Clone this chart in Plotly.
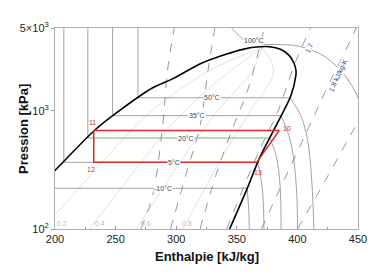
import plotly.graph_objects as go
import math

# ---------------- data (h in kJ/kg, p in kPa) ----------------
dome_h = [183, 200, 232.5, 252, 280.6, 296.9, 321.3, 341.7, 355, 366, 377, 386, 393, 397.1, 398.8, 398.7, 394.6, 382.4, 368.6, 358, 344.1]
dome_p = [211, 313, 680, 980, 1561, 1857, 2532, 3013, 3300, 3450, 3470, 3300, 2950, 2532, 2200, 1969, 1337, 748, 395, 213, 100]

# isotherms: liquid/two-phase part (straight) and superheated part (curved)
iso_names = ["-10°C", "5°C", "20°C", "35°C", "50°C"]
iso_liq_h = [[190, 358.5], [207.3, 207.3, 367.3], [227.1, 227.1], [247.5, 247.5, 386.5], [268.4, 268.4, 393.8]]
iso_liq_p = [[221, 221], [5000, 366, 366], [5000, 587], [5000, 908, 908], [5000, 1286, 1286]]
iso20_h = [227.1, 377.2]
iso20_p = [587, 587]
iso_sup_h = [[358.5, 359.6, 360.4], [367.3, 370.2, 371.8, 372.4], [377.2, 382.4, 385.7, 386.5],
             [386.5, 393, 397.1, 399.5, 400.1], [393.8, 402.8, 408.5, 411.8, 413.6]]
iso_sup_p = [[221, 159, 100], [366, 258, 175, 100], [587, 419, 234, 100],
             [908, 617, 380, 193, 100], [1286, 908, 560, 258, 100]]
iso100_h = [345, 352.3, 358.8, 370.2, 394.6, 406.8, 423.1, 439.4, 450, 456.5]
iso100_p = [5100, 4268, 3800, 3656, 3586, 3384, 2842, 1969, 1286, 748]

iso_lbl_h = [288.8, 298.3, 307.7, 317.3, 329.5, 364.5]
iso_lbl_p = [221, 366, 587, 908, 1286, 3950]
iso_lbl_t = ["-10°C", "5°C", "20°C", "35°C", "50°C", "100°C"]

# isentropes (dashed)
s_h = [[270.8, 280.6, 288.8, 292.8, 298.4],
       [295.3, 309.1, 319.7, 326.2, 331.9],
       [319.7, 332.7, 345.8, 358.8, 367, 372.6],
       [341.7, 356.3, 368.6, 384.1, 397.1, 405.2, 410.9],
       [370.2, 389.7, 409.3, 427.2, 443.5, 448.4],
       [400.1, 423.1, 446, 453.3]]
s_p = [[100, 193, 748, 2168, 5000],
       [100, 313, 748, 2168, 5000],
       [100, 284, 679, 1472, 2899, 5000],
       [100, 234, 461, 1000, 2388, 3727, 5000],
       [100, 268, 720, 1787, 3875, 5000],
       [100, 258, 679, 908]]
s_lbl_h = [409.3, 433.7]
s_lbl_p = [3384, 1969]
s_lbl_t = ["1.7", "1.8 kJ/kg-K"]

# quality lines
q_h = [[189.7, 218.3, 247.6, 280, 326.9, 371],
       [228.3, 253.3, 278.7, 307.1, 344.8, 371],
       [266.9, 288.1, 309.8, 334.3, 362.7, 371],
       [305.5, 323, 340.9, 361.4, 380.5, 371]]
q_p = [[100, 213, 461, 1000, 2168, 3400]] * 4
q_lbl_h = [205.7, 237.5, 274.9, 309.1]
q_lbl_t = ["0.2", "0.4", "0.6", "0.8"]
q_lbl_p = 112

# refrigeration cycle
cyc_h = [232, 385, 366.5, 232, 232]
cyc_p = [680, 680, 366, 366, 680]
pt_lbl_t = ["11", "10", "13", "12"]
pt_lbl_h = [230.9, 391.4, 367.5, 230.1]
pt_lbl_p = [793, 706, 303, 319]

# ---------------- figure ----------------
fig = go.Figure()
GRAY = "#8a8a8a"

for h, p in zip(q_h, q_p):
    fig.add_trace(go.Scatter(x=h, y=p, mode="lines", line=dict(color="#d6d6d6", width=0.7, shape="spline"), hoverinfo="skip"))

for h, p in zip(s_h, s_p):
    fig.add_trace(go.Scatter(x=h, y=p, mode="lines", line=dict(color="#8089aa", width=0.9, dash="dash", shape="spline"), hoverinfo="skip"))

for h, p in zip(iso_liq_h, iso_liq_p):
    fig.add_trace(go.Scatter(x=h, y=p, mode="lines", line=dict(color=GRAY, width=0.8), hoverinfo="skip"))
fig.add_trace(go.Scatter(x=iso20_h, y=iso20_p, mode="lines", line=dict(color="#6fa86a", width=0.9), hoverinfo="skip"))
for h, p in zip(iso_sup_h, iso_sup_p):
    fig.add_trace(go.Scatter(x=h, y=p, mode="lines", line=dict(color=GRAY, width=0.8, shape="spline"), hoverinfo="skip"))
fig.add_trace(go.Scatter(x=iso100_h, y=iso100_p, mode="lines", line=dict(color=GRAY, width=0.8, shape="spline"), hoverinfo="skip"))

fig.add_trace(go.Scatter(x=dome_h, y=dome_p, mode="lines", line=dict(color="black", width=1.6, shape="spline", smoothing=0.8), hoverinfo="skip"))
fig.add_trace(go.Scatter(x=cyc_h, y=cyc_p, mode="lines", line=dict(color="#dd2a2a", width=1.5), hoverinfo="skip"))

ann = []
for h, p, t in zip(iso_lbl_h, iso_lbl_p, iso_lbl_t):
    ann.append(dict(x=h, y=math.log10(p), text=t, showarrow=False, font=dict(size=7, color="#444"), bgcolor="white", borderpad=0))
for h, p, t in zip(s_lbl_h, s_lbl_p, s_lbl_t):
    ann.append(dict(x=h, y=math.log10(p), text=t, showarrow=False, textangle=-65, font=dict(size=7, color="#3a3f8f"), bgcolor="white", borderpad=0))
for h, t in zip(q_lbl_h, q_lbl_t):
    ann.append(dict(x=h, y=math.log10(q_lbl_p), text=t, showarrow=False, font=dict(size=7, color="#bbbbbb")))
for h, p, t in zip(pt_lbl_h, pt_lbl_p, pt_lbl_t):
    ann.append(dict(x=h, y=math.log10(p), text=t, showarrow=False, font=dict(size=7, color="#d42a2a")))

ann.append(dict(xref="paper", yref="paper", x=0.5, y=-0.139, yanchor="middle", text="<b>Enthalpie [kJ/kg]</b>", showarrow=False, font=dict(size=13, color="#111")))
ann.append(dict(xref="paper", yref="paper", x=-0.104, xanchor="center", y=0.5, text="<b>Pression [kPa]</b>", textangle=-90, showarrow=False, font=dict(size=13, color="#111")))

# page body adds an 8 px offset, so the figure is sized to fill the rest of the window
fig.update_layout(
    width=378, height=269, margin=dict(l=43, r=28, t=19, b=48),
    plot_bgcolor="white", paper_bgcolor="white", showlegend=False,
    font=dict(family="Liberation Sans, Arial, sans-serif", size=11, color="#222"),
    annotations=ann,
)
fig.update_xaxes(range=[200, 450], tick0=200, dtick=50, showline=True, linecolor="#b0b0b0", mirror=True,
                 ticks="inside", ticklen=3, tickcolor="#999", showgrid=False, zeroline=False,
                 minor=dict(ticks="inside", ticklen=2, dtick=25, tickcolor="#999"))
fig.update_yaxes(type="log", range=[2, math.log10(5000)], tickvals=[100, 1000, 5000],
                 ticktext=["10<sup>2</sup>", "10<sup>3</sup>", "5×10<sup>3</sup>"],
                 showline=True, linecolor="#b0b0b0", mirror=True, ticks="outside", ticklen=3, tickcolor="#999",
                 showgrid=False, zeroline=False)

fig.write_html("out.html")
